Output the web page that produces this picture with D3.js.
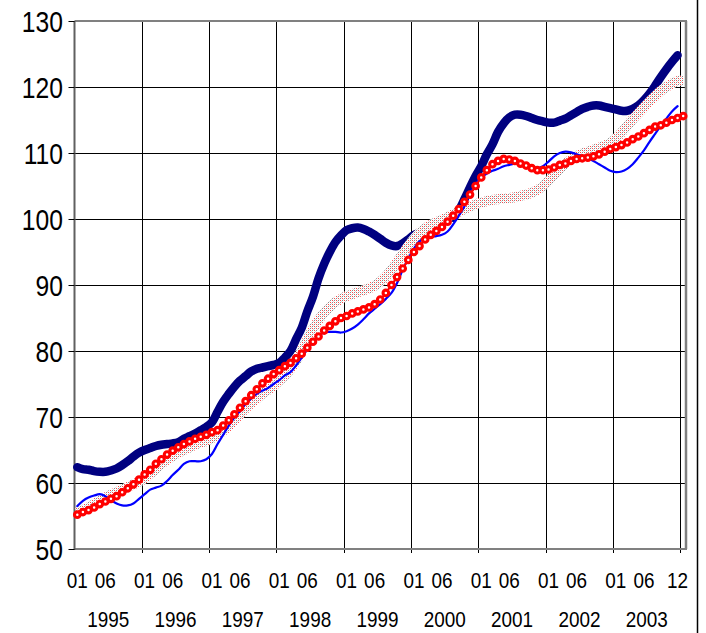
<!DOCTYPE html>
<html><head><meta charset="utf-8">
<script src="https://cdn.jsdelivr.net/npm/d3@7"></script>
<style>html,body{margin:0;padding:0;background:#fff;}svg{display:block;}</style>
</head><body>
<svg id="chart" width="706" height="633"></svg>
<script>
// ---- data ----
const years = [1995, 1996, 1997, 1998, 1999, 2000, 2001, 2002, 2003, 2004];
const monthCodes = ["01","02","03","04","05","06","07","08","09","10","11","12"];
const yTicks = [50, 60, 70, 80, 90, 100, 110, 120, 130];
const monthLabels = ["01", "06"];
const lastLabel = "12";

// thick navy series (Jan 1995 - Dec 2003), gap in spring 2000
const navySeries = [
  62.4, 62.1, 62.0, 61.8, 61.7, 61.7, 61.9, 62.2, 62.7, 63.3, 64.0, 64.6,
  65.0, 65.3, 65.6, 65.8, 65.9, 66.0, 66.2, 66.7, 67.1, 67.5, 68.0, 68.5,
  69.2, 70.8, 72.3, 73.5, 74.6, 75.5, 76.2, 76.9, 77.3, 77.5, 77.7, 77.9,
  78.2, 79.0, 80.0, 81.8, 83.5, 86.0, 88.2, 91.0, 93.2, 95.0, 96.5, 97.5,
  98.3, 98.6, 98.7, 98.5, 98.1, 97.6, 97.0, 96.4, 96.0, 95.9, 96.3, 96.9,
  97.6, 97.9, null, null, null, null, null, 100.2, 101.3, 103.0, 104.8, 106.5,
  108.0, 109.8, 111.3, 113.2, 114.5, 115.4, 115.8, 115.8, 115.6, 115.3, 115.0, 114.8,
  114.6, 114.6, 114.9, 115.2, 115.7, 116.2, 116.7, 117.0, 117.2, 117.2, 117.0, 116.8,
  116.6, 116.4, 116.4, 116.7, 117.2, 118.0, 119.0, 120.2, 121.5, 122.7, 123.8, 124.8,
  null
];
// thin blue series
const blueSeries = [
  56.5, 57.3, 57.8, 58.1, 58.3, 58.0, 57.4, 56.9, 56.6, 56.6, 56.9, 57.6,
  58.3, 59.0, 59.3, 59.6, 60.3, 61.2, 62.0, 62.9, 63.3, 63.3, 63.3, 63.6,
  64.4, 65.9, 67.3, 68.7, 69.9, 70.9, 72.0, 72.8, 73.5, 74.0, 74.4, 75.0,
  75.6, 76.3, 76.8, 77.8, 79.0, 80.3, 81.3, 82.3, 82.8, 82.9, 82.9, 82.8,
  83.0, 83.4, 84.0, 84.8, 85.7, 86.4, 87.1, 87.9, 88.8, 90.3, 92.3, 94.0,
  95.5, 96.6, 97.1, 97.3, 97.4, 97.6, 98.1, 99.2, 100.5, 101.9, 103.8, 105.3,
  106.3, 106.9, 107.3, 107.6, 108.0, 108.2, 108.4, 108.4, 108.2, 107.8, 107.7, 108.0,
  108.7, 109.5, 110.0, 110.2, 110.1, 109.8, 109.5, 109.2, 108.8, 108.3, 107.8, 107.3,
  107.1, 107.2, 107.6, 108.3, 109.3, 110.4, 111.7, 112.9, 114.1, 115.2, 116.3, 117.1,
  null
];
// red series with circle markers (Jan 1995 - Jan 2004)
const redSeries = [
  55.2, 55.6, 55.9, 56.3, 56.8, 57.2, 57.6, 58.0, 58.6, 59.2, 59.8, 60.5,
  61.3, 62.0, 62.9, 63.6, 64.3, 64.9, 65.4, 65.9, 66.3, 66.7, 67.0, 67.3,
  67.7, 68.0, 68.7, 69.5, 70.4, 71.4, 72.4, 73.3, 74.2, 75.1, 75.8, 76.5,
  77.1, 77.7, 78.2, 78.9, 79.6, 80.5, 81.4, 82.2, 83.1, 83.8, 84.5, 85.0,
  85.3, 85.7, 86.0, 86.3, 86.6, 87.1, 87.8, 88.8, 90.0, 91.2, 92.5, 93.8,
  95.0, 95.9, 96.9, 97.6, 98.2, 98.8, 99.6, 100.5, 101.5, 102.6, 103.7, 105.0,
  106.3, 107.4, 108.3, 108.8, 109.1, 109.0, 108.8, 108.4, 108.1, 107.7, 107.4, 107.4,
  107.5, 107.8, 108.2, 108.4, 108.8, 109.1, 109.2, 109.3, 109.5, 109.8, 110.2, 110.6,
  110.9, 111.2, 111.6, 112.1, 112.5, 113.0, 113.5, 114.0, 114.2, 114.6, 115.0, 115.3,
  115.6
];
// dotted (patterned) wide series
const bandSeries = [
  55.5, 55.9, 56.3, 56.8, 57.3, 57.8, 58.2, 58.6, 59.0, 59.4, 59.8, 60.2,
  60.7, 61.4, 62.1, 62.9, 63.5, 64.1, 64.6, 65.0, 65.4, 65.8, 66.1, 66.4,
  66.8, 67.3, 67.9, 68.6, 69.5, 70.4, 71.3, 72.1, 72.8, 73.5, 74.1, 74.7,
  75.5, 76.3, 77.3, 78.5, 80.0, 81.7, 83.3, 84.7, 85.8, 86.7, 87.4, 87.9,
  88.3, 88.6, 88.9, 89.2, 89.5, 89.9, 90.5, 91.3, 92.3, 93.5, 94.7, 95.9,
  97.0, 97.9, 98.6, 99.1, 99.5, 99.9, 100.3, 100.7, 101.1, 101.5, 101.9, 102.2,
  102.5, 102.7, 102.9, 103.0, 103.1, 103.2, 103.3, 103.5, 103.7, 104.0, 104.4, 105.0,
  105.8, 106.7, 107.6, 108.4, 109.0, 109.5, 109.9, 110.2, 110.5, 110.8, 111.1, 111.5,
  112.2, 113.1, 114.1, 115.1, 116.0, 116.9, 117.8, 118.6, 119.4, 120.0, 120.5, 120.9,
  121.0
];

// categories: every month Jan 1995 .. Jan 2004
const categories = [];
years.forEach(y => monthCodes.forEach(m => { if (y < 2004 || m === "01") categories.push(y + "-" + m); }));

// ---- layout ----
const svg = d3.select("#chart");
const L = 74.5, R = 686, T = 21, B = 549;
const x = d3.scaleBand().domain(categories).range([L, R]).padding(0);
const y = d3.scaleLinear().domain([50, 130]).range([B, T]);
const cx = c => x(c) + x.bandwidth() / 2;
const FONT = "Liberation Sans, Arial, sans-serif";

// pattern for band
const defs = svg.append("defs");
const pat = defs.append("pattern").attr("id", "dots").attr("patternUnits", "userSpaceOnUse")
  .attr("width", 4).attr("height", 4);
pat.append("rect").attr("width", 4).attr("height", 4).attr("fill", "#ffffff");
[[0,0,"#ff4a4a"],[2,2,"#ff4a4a"],[2,0,"#8a8a8a"],[0,2,"#8a8a8a"],[1,1,"#dcdcdc"],[3,3,"#dcdcdc"]].forEach(([px,py,c]) =>
  pat.append("rect").attr("x", px).attr("y", py).attr("width", 1).attr("height", 1).attr("fill", c));

// horizontal grid
svg.append("g").selectAll("line").data(yTicks.filter(v => v > 50 && v < 130)).join("line")
  .attr("x1", L).attr("x2", R).attr("y1", d => Math.round(y(d)) + 0.5).attr("y2", d => Math.round(y(d)) + 0.5)
  .attr("stroke", "#000").attr("stroke-width", 1);

// vertical grid at each January boundary (after first)
const janCats = categories.filter(c => c.endsWith("-01") && !c.startsWith("1995"));
svg.append("g").selectAll("line").data(janCats).join("line")
  .attr("x1", d => Math.round(x(d)) + 0.5).attr("x2", d => Math.round(x(d)) + 0.5)
  .attr("y1", T).attr("y2", B + 4)
  .attr("stroke", "#000").attr("stroke-width", 1);

// plot border (gray)
svg.append("line").attr("x1", L).attr("x2", R + 1).attr("y1", T).attr("y2", T).attr("stroke", "#808080").attr("stroke-width", 2);
svg.append("line").attr("x1", R).attr("x2", R).attr("y1", T).attr("y2", B).attr("stroke", "#808080").attr("stroke-width", 2.5);
svg.append("line").attr("x1", L).attr("x2", R + 1).attr("y1", B).attr("y2", B).attr("stroke", "#808080").attr("stroke-width", 2);
svg.append("line").attr("x1", L).attr("x2", L).attr("y1", T).attr("y2", B + 1).attr("stroke", "#606060").attr("stroke-width", 2);

// y tick marks
svg.append("g").selectAll("line").data(yTicks).join("line")
  .attr("x1", L - 6).attr("x2", L).attr("y1", d => Math.round(y(d)) + 0.5).attr("y2", d => Math.round(y(d)) + 0.5)
  .attr("stroke", "#000").attr("stroke-width", 1);

// y labels
svg.append("g").selectAll("text").data(yTicks).join("text")
  .attr("transform", d => `translate(63,${y(d) + 10.5}) scale(0.85,1)`)
  .attr("text-anchor", "end")
  .attr("font-family", FONT).attr("font-size", 29)
  .attr("fill", "#000").text(d => d);

// x labels
const lineGen = d3.line().defined(d => d.v != null).x(d => cx(d.c)).y(d => y(d.v)).curve(d3.curveCatmullRom.alpha(0.5));
const toPts = arr => arr.map((v, i) => ({ c: categories[i], v }));

const xLab = [];
categories.forEach(c => {
  const [yy, mm] = c.split("-");
  if (+yy < 2004 && monthLabels.includes(mm)) xLab.push({ c, t: mm });
});
xLab.push({ c: "2003-12", t: lastLabel });
svg.append("g").selectAll("text").data(xLab).join("text")
  .attr("transform", d => `translate(${cx(d.c)},588) scale(0.86,1)`)
  .attr("text-anchor", "middle")
  .attr("font-family", FONT).attr("font-size", 22)
  .attr("fill", "#000").text(d => d.t);

svg.append("g").selectAll("text").data(years.filter(v => v < 2004)).join("text")
  .attr("transform", d => `translate(${(cx(d + "-01") + cx(d + "-12")) / 2},627) scale(0.86,1)`)
  .attr("text-anchor", "middle")
  .attr("font-family", FONT).attr("font-size", 22)
  .attr("fill", "#000").text(d => d);

// series
svg.append("path").datum(toPts(navySeries)).attr("d", lineGen)
  .attr("fill", "none").attr("stroke", "#000080").attr("stroke-width", 8.5)
  .attr("stroke-linecap", "round").attr("stroke-linejoin", "round");
svg.append("path").datum(toPts(bandSeries)).attr("d", lineGen)
  .attr("fill", "none").attr("stroke", "url(#dots)").attr("stroke-width", 10);
svg.append("path").datum(toPts(blueSeries)).attr("d", lineGen)
  .attr("fill", "none").attr("stroke", "#0000ff").attr("stroke-width", 2.2)
  .attr("stroke-linecap", "round");
svg.append("path").datum(toPts(redSeries)).attr("d", lineGen)
  .attr("fill", "none").attr("stroke", "#ff0000").attr("stroke-width", 2);
svg.append("g").selectAll("circle").data(toPts(redSeries)).join("circle")
  .attr("cx", d => cx(d.c)).attr("cy", d => y(d.v)).attr("r", 2.8)
  .attr("fill", "#ffffff").attr("stroke", "#ff0000").attr("stroke-width", 3.1);

// outer right frame line
svg.append("line").attr("x1", 697.5).attr("x2", 697.5).attr("y1", 0).attr("y2", 633).attr("stroke", "#000").attr("stroke-width", 1.5);
</script>
</body></html>
